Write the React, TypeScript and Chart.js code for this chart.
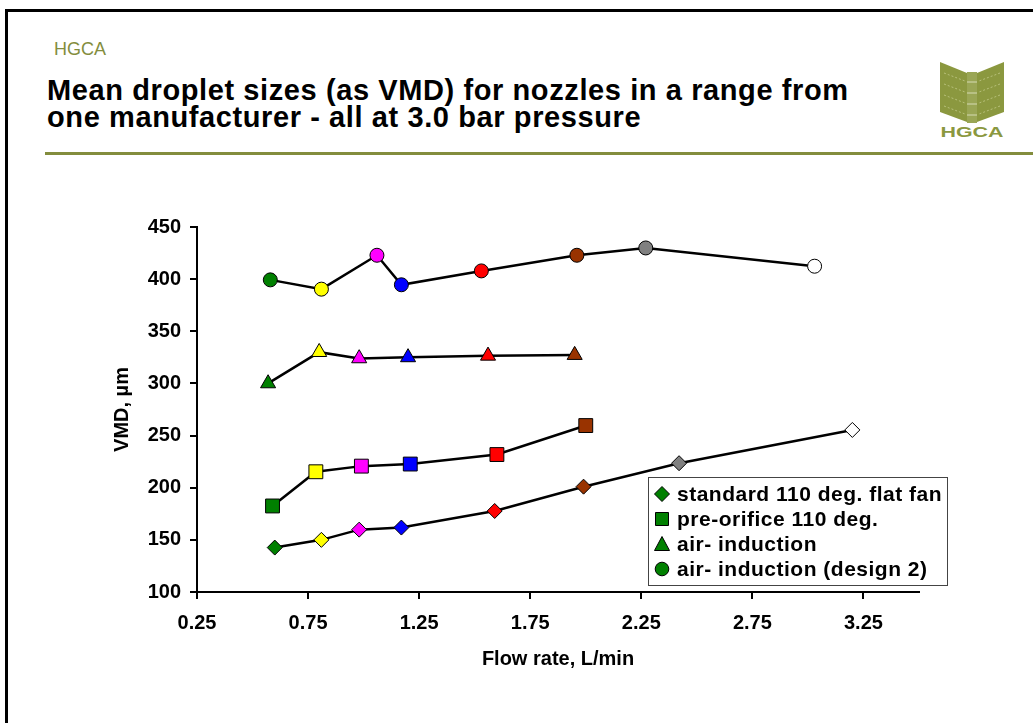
import React, { useEffect, useRef } from 'react';
import { Chart, registerables } from 'chart.js';

Chart.register(...registerables);

// ---- data ----
const SERIES_LABELS = [
  'standard 110 deg. flat fan',
  'pre-orifice 110 deg.',
  'air- induction',
  'air- induction (design 2)',
];
const STD_X = [0.6, 0.81, 0.98, 1.17, 1.59, 1.99, 2.42, 3.2];
const STD_Y = [142.6, 150, 159.8, 161.8, 177.7, 201, 223.5, 255.4];
const PRE_X = [0.59, 0.785, 0.99, 1.21, 1.6, 2.0];
const PRE_Y = [182.5, 215.3, 220.7, 222.7, 231.8, 259.6];
const AI_X = [0.57, 0.8, 0.98, 1.2, 1.56, 1.95];
const AI_Y = [300, 330, 324, 325, 326.5, 327.2];
const AI2_X = [0.58, 0.81, 1.06, 1.17, 1.53, 1.96, 2.27, 3.03];
const AI2_Y = [399.3, 390.4, 422.9, 394.6, 407.9, 422.9, 429.9, 412.4];
const NOZZLE_COLOURS = ['#008000', '#FFFF00', '#FF00FF', '#0000FF', '#FF0000', '#993300', '#808080', '#FFFFFF'];
const X_TICKS = [0.25, 0.75, 1.25, 1.75, 2.25, 2.75, 3.25];
const X_MIN = 0.25;
const X_MAX = 3.5;
const Y_MIN = 100;
const Y_MAX = 450;
const Y_STEP = 50;
const X_TITLE = 'Flow rate, L/min';
const Y_TITLE = 'VMD, µm';
const LEGEND_COLOUR = '#008000';

const FONT = 'Arial, "Liberation Sans", Helvetica, sans-serif';
const OLIVE = '#838d3d';
const LOGO_OLIVE = '#8b983f';

const toPoints = (xs: number[], ys: number[]) => xs.map((x, i) => ({ x, y: ys[i] }));

const POINT_STYLES = ['rectRot', 'rect', 'triangle', 'circle'];
const POINT_RADII = [7.5, 9.8, 8.7, 7];

function drawMarker(ctx: CanvasRenderingContext2D, style: string, x: number, y: number) {
  ctx.beginPath();
  if (style === 'rectRot') {
    const r = 7.5;
    ctx.moveTo(x, y - r);
    ctx.lineTo(x + r, y);
    ctx.lineTo(x, y + r);
    ctx.lineTo(x - r, y);
    ctx.closePath();
  } else if (style === 'rect') {
    ctx.rect(x - 6.5, y - 6.5, 13, 13);
  } else if (style === 'triangle') {
    ctx.moveTo(x, y - 7.5);
    ctx.lineTo(x + 7.5, y + 6.5);
    ctx.lineTo(x - 7.5, y + 6.5);
    ctx.closePath();
  } else {
    ctx.arc(x, y, 6.8, 0, Math.PI * 2);
  }
  ctx.fillStyle = LEGEND_COLOUR;
  ctx.fill();
  ctx.lineWidth = 1;
  ctx.strokeStyle = '#000';
  ctx.stroke();
}

const slideLegend = {
  id: 'slideLegend',
  afterDraw(chart: any, _args: any, opts: any) {
    const ctx: CanvasRenderingContext2D = chart.ctx;
    const { left, top, width, height, rowStart, rowGap } = opts;
    ctx.save();
    ctx.fillStyle = '#fff';
    ctx.fillRect(left, top, width, height);
    ctx.lineWidth = 1;
    ctx.strokeStyle = '#444';
    ctx.strokeRect(left + 0.5, top + 0.5, width, height);
    chart.data.datasets.forEach((ds: any, i: number) => {
      const y = top + rowStart + i * rowGap;
      drawMarker(ctx, POINT_STYLES[i], left + 14, y);
      ctx.fillStyle = '#000';
      ctx.font = `bold 21px ${FONT}`;
      (ctx as any).letterSpacing = '0.5px';
      ctx.textBaseline = 'middle';
      ctx.textAlign = 'left';
      ctx.fillText(ds.label, left + 29, y + 1);
    });
    ctx.restore();
  },
};

function ChartCanvas() {
  const ref = useRef<HTMLCanvasElement | null>(null);
  useEffect(() => {
    if (!ref.current) return;
    Chart.defaults.font.family = FONT;
    Chart.defaults.color = '#000';
    const series = [
      toPoints(STD_X, STD_Y),
      toPoints(PRE_X, PRE_Y),
      toPoints(AI_X, AI_Y),
      toPoints(AI2_X, AI2_Y),
    ];
    const chart = new Chart(ref.current, {
      type: 'line',
      data: {
        datasets: series.map((pts, i) => ({
          label: SERIES_LABELS[i],
          data: pts,
          borderColor: '#000',
          borderWidth: 2.5,
          tension: 0,
          fill: false,
          pointStyle: POINT_STYLES[i] as any,
          pointRadius: POINT_RADII[i],
          pointHoverRadius: POINT_RADII[i],
          pointBackgroundColor: NOZZLE_COLOURS.slice(0, pts.length),
          pointBorderColor: '#000',
          pointBorderWidth: 1,
        })),
      },
      options: {
        animation: false,
        responsive: true,
        maintainAspectRatio: false,
        layout: { padding: { left: 100, right: 114, top: 67, bottom: 51 } },
        plugins: {
          legend: { display: false },
          tooltip: { enabled: false },
          title: { display: false },
          slideLegend: { left: 648, top: 317, width: 299, height: 108, rowStart: 17, rowGap: 25 },
        } as any,
        scales: {
          x: {
            type: 'linear',
            min: X_MIN,
            max: X_MAX,
            afterBuildTicks: (scale: any) => {
              scale.ticks = X_TICKS.map((v) => ({ value: v }));
            },
            afterFit: (scale: any) => {
              scale.height = 80;
            },
            grid: { display: true, drawOnChartArea: false, drawTicks: true, tickLength: 7, color: '#000', lineWidth: 2 },
            border: { display: true, color: '#000', width: 2 },
            ticks: {
              padding: 12,
              maxRotation: 0,
              autoSkip: false,
              font: { size: 20, weight: 'bold' },
              color: '#000',
              callback: (v: any) => Number(v).toFixed(2),
            },
            title: {
              display: true,
              text: X_TITLE,
              font: { size: 20, weight: 'bold' },
              color: '#000',
              padding: { top: 0, bottom: 1 },
            },
          },
          y: {
            type: 'linear',
            min: Y_MIN,
            max: Y_MAX,
            afterFit: (scale: any) => {
              scale.width = 97;
            },
            grid: { display: true, drawOnChartArea: false, drawTicks: true, tickLength: 7, color: '#000', lineWidth: 2 },
            border: { display: true, color: '#000', width: 2 },
            ticks: {
              stepSize: Y_STEP,
              padding: 9,
              font: { size: 20, weight: 'bold' },
              color: '#000',
            },
            title: {
              display: true,
              text: Y_TITLE,
              font: { size: 20, weight: 'bold' },
              color: '#000',
              padding: { top: 10, bottom: 0 },
            },
          },
        },
      },
      plugins: [slideLegend],
    });
    return () => chart.destroy();
  }, []);
  return <canvas ref={ref} />;
}

function Logo() {
  return (
    <svg width={64} height={78} viewBox="0 0 64 78" style={{ position: 'absolute', left: 940, top: 62 }}>
      <path d="M0,0 L27,11 L27,60 L0,50 Z" fill={LOGO_OLIVE} />
      <path d="M64,0 L37,11 L37,60 L64,50 Z" fill={LOGO_OLIVE} />
      <rect x={27} y={10} width={10} height={51} fill="#9aa655" />
      {[14, 25, 36, 47].map((yy) => (
        <g key={yy}>
          <line x1={4} y1={yy - 3} x2={25} y2={yy + 5} stroke="#b7c07a" strokeWidth={1} strokeDasharray="2 2" />
          <line x1={60} y1={yy - 3} x2={39} y2={yy + 5} stroke="#b7c07a" strokeWidth={1} strokeDasharray="2 2" />
          <line x1={27} y1={yy + 6} x2={37} y2={yy + 6} stroke="#d6dbb4" strokeWidth={1} />
        </g>
      ))}
      <text x={32} y={75} textAnchor="middle" fontFamily={FONT} fontWeight="bold" fontSize={14} fill={LOGO_OLIVE} textLength={63} lengthAdjust="spacingAndGlyphs">HGCA</text>
    </svg>
  );
}

export default function App() {
  return (
    <div
      style={{
        position: 'absolute',
        left: 0,
        top: 0,
        width: 1033,
        height: 723,
        background: '#fff',
        overflow: 'hidden',
        fontFamily: FONT,
      }}
    >
      <div style={{ position: 'absolute', left: 5, top: 9, width: 1028, height: 2.5, background: '#000' }} />
      <div style={{ position: 'absolute', left: 5, top: 9, width: 2.5, height: 714, background: '#000' }} />
      <div style={{ position: 'absolute', left: 54, top: 40, fontSize: 18, lineHeight: '18px', color: OLIVE }}>HGCA</div>
      <div
        style={{
          position: 'absolute',
          left: 47,
          top: 76.5,
          fontSize: 29,
          lineHeight: '27px',
          fontWeight: 'bold',
          letterSpacing: '0.6px',
          color: '#000',
          whiteSpace: 'nowrap',
        }}
      >
        Mean droplet sizes (as VMD) for nozzles in a range from
        <br />
        one manufacturer - all at 3.0 bar pressure
      </div>
      <div style={{ position: 'absolute', left: 45, top: 152, width: 988, height: 2.5, background: OLIVE }} />
      <Logo />
      <div style={{ position: 'absolute', left: 0, top: 160, width: 1033, height: 563 }}>
        <ChartCanvas />
      </div>
    </div>
  );
}
